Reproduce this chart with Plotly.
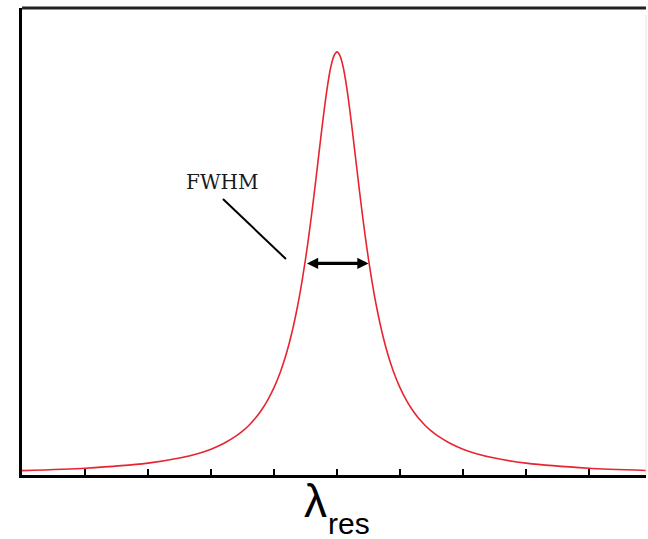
import plotly.graph_objects as go

# Curve (x in tick units, peak at 5; y as fraction of frame height)
wavelength = [0.0, 1.0, 2.0, 2.5, 2.8, 3.0, 3.2, 3.4, 3.5, 3.6, 3.7, 3.8, 3.9, 4.0, 4.1, 4.15, 4.2, 4.25, 4.3,
              4.35, 4.4, 4.45, 4.5, 4.55, 4.6, 4.65, 4.7, 4.75, 4.8, 4.85, 4.9, 4.95, 5.0,
              5.05, 5.1, 5.15, 5.2, 5.25, 5.3, 5.35, 5.4, 5.45, 5.5, 5.55, 5.6, 5.65, 5.7, 5.75, 5.8, 5.85,
              5.9, 6.0, 6.1, 6.2, 6.3, 6.4, 6.5, 6.6, 6.8, 7.0, 7.2, 7.5, 8.0, 9.0, 10.0]
intensity = [0.0093, 0.0145, 0.0254, 0.0362, 0.0462, 0.0553, 0.0673, 0.0836, 0.0939, 0.1061, 0.1208,
             0.1386, 0.1603, 0.187, 0.2202, 0.2398, 0.2618, 0.2864, 0.3141, 0.3453, 0.380, 0.4189,
             0.462, 0.5094, 0.561, 0.6159, 0.673, 0.7305, 0.785, 0.8339, 0.8725, 0.897, 0.906,
             0.897, 0.8725, 0.8339, 0.785, 0.7305, 0.673, 0.6159, 0.561, 0.5094, 0.462, 0.4189, 0.380,
             0.3453, 0.3141, 0.2864, 0.2618, 0.2398, 0.2202, 0.187, 0.1603, 0.1386, 0.1208, 0.1061,
             0.0939, 0.0836, 0.0673, 0.0553, 0.0462, 0.0362, 0.0254, 0.0145, 0.0093]
x_ticks = [1, 2, 3, 4, 5, 6, 7, 8, 9]
peak_x = 5.0
peak_y = 0.906
fwhm_left = 4.5
fwhm_right = 5.5

fig = go.Figure()
fig.add_trace(go.Scatter(x=wavelength, y=intensity, mode="lines",
                         line=dict(color="rgb(232,36,48)", width=1.6, shape="spline", smoothing=0.6),
                         hoverinfo="skip", showlegend=False))

# FWHM double arrow
fig.add_annotation(x=fwhm_right, y=peak_y / 2, ax=fwhm_left, ay=peak_y / 2,
                   xref="x", yref="y", axref="x", ayref="y", text="",
                   showarrow=True, arrowhead=2, arrowside="end+start",
                   arrowwidth=3.2, arrowsize=0.7, arrowcolor="black")
# pointer line
fig.add_shape(type="line", x0=3.19, y0=0.591, x1=4.19, y1=0.4625, xref="x", yref="y",
              line=dict(color="black", width=2))
fig.add_annotation(x=3.17, y=0.627, xref="x", yref="y", text="FWHM", showarrow=False,
                   font=dict(family="DejaVu Serif", size=20, color="#1a1a1a"))
# x label: λ with subscript "res"
fig.add_annotation(x=peak_x, y=0, xref="x", yref="paper", xanchor="right", yanchor="top",
                   xshift=-8, yshift=2, text="λ", showarrow=False,
                   font=dict(family="Liberation Sans, Arial", size=46, color="black"))
fig.add_annotation(x=peak_x, y=0, xref="x", yref="paper", xanchor="left", yanchor="top",
                   xshift=-11, yshift=-30, text="res", showarrow=False,
                   font=dict(family="Liberation Sans, Arial", size=30, color="black"))
# faint right frame
fig.add_shape(type="line", x0=1, x1=1, y0=0, y1=0.985, xref="paper", yref="paper",
              line=dict(color="#e6e6e6", width=1))

fig.update_xaxes(range=[0, 9.905], showgrid=False, zeroline=False, showline=True, linecolor="black",
                 linewidth=2.5, mirror=False, ticks="inside", ticklen=6, tickwidth=2, tickcolor="black",
                 tickvals=x_ticks, showticklabels=False)
fig.update_yaxes(range=[0, 1], showgrid=False, zeroline=False, showline=True, linecolor="black",
                 linewidth=2.5, showticklabels=False, ticks="")
# top frame
fig.add_shape(type="line", x0=0, x1=1, y0=1, y1=1, xref="paper", yref="paper",
              line=dict(color="#222", width=3))

fig.update_layout(width=648, height=539, margin=dict(l=22, r=2, t=8, b=64),
                  plot_bgcolor="white", paper_bgcolor="white")
fig.write_html("out.html")
